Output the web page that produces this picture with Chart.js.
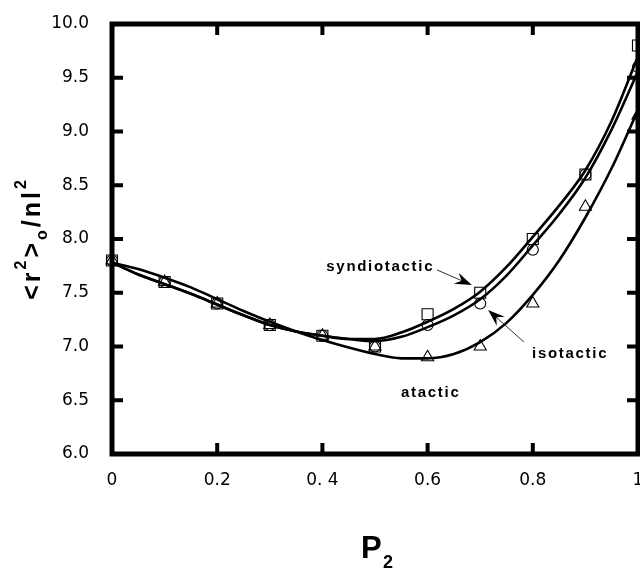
<!DOCTYPE html>
<html><head><meta charset="utf-8">
<script src="https://cdn.jsdelivr.net/npm/chart.js@4/dist/chart.umd.min.js"></script>
<style>html,body{margin:0;padding:0;background:#fff;}#wrap{width:640px;height:570px;}</style>
</head><body><div id="wrap"><canvas id="c" width="640" height="570"></canvas></div>
<script>
// ---- data ----
const pointX = [0, 0.1, 0.2, 0.3, 0.4, 0.5, 0.6, 0.7, 0.8, 0.9, 1.0];
const syndioPoints = [7.8, 7.6, 7.4, 7.2, 7.1, 7.0, 7.3, 7.5, 8.0, 8.6, 9.8];
const isoPoints    = [7.8, 7.6, 7.4, 7.2, 7.1, 7.0, 7.2, 7.4, 7.9, 8.6, 9.6];
const ataPoints    = [7.8, 7.6, 7.4, 7.2, 7.1, 7.0, 6.9, 7.0, 7.4, 8.3, 9.15];

const curveX      = [0, 0.05, 0.1, 0.15, 0.2, 0.25, 0.3, 0.35, 0.4, 0.45, 0.5, 0.55, 0.6, 0.65, 0.7, 0.75, 0.8, 0.85, 0.9, 0.95, 1.0];
const syndioCurve = [7.78, 7.67, 7.58, 7.49, 7.39, 7.29, 7.2, 7.14, 7.1, 7.07, 7.07, 7.13, 7.23, 7.35, 7.51, 7.74, 8.02, 8.31, 8.64, 9.1, 9.7];
const isoCurve    = [7.78, 7.67, 7.58, 7.49, 7.39, 7.29, 7.2, 7.14, 7.1, 7.07, 7.05, 7.09, 7.18, 7.29, 7.44, 7.66, 7.94, 8.23, 8.57, 9.02, 9.56];
const ataCurve    = [7.78, 7.72, 7.64, 7.55, 7.44, 7.33, 7.23, 7.14, 7.06, 6.99, 6.93, 6.89, 6.89, 6.93, 7.04, 7.22, 7.48, 7.8, 8.2, 8.66, 9.2];

const xTickLabels = ['0', '0.2', '0. 4', '0.6', '0.8', '1'];
const yTickLabels = ['6.0', '6.5', '7.0', '7.5', '8.0', '8.5', '9.0', '9.5', '10.0'];

const seriesNames = ['syndiotactic', 'isotactic', 'atactic'];

// annotation anchors (data coordinates)
const labelAnchors = [[0.51, 7.74], [0.871, 6.93], [0.606, 6.567]];
const arrowAnchors = [[[0.618, 7.712], [0.684, 7.572]], [[0.783, 7.042], [0.715, 7.34]]];

// ---- build ----
const pts = (xs, ys) => xs.map((x, i) => ({x, y: ys[i]}));
const FONT = "'Liberation Sans', Arial, Helvetica, sans-serif";
const TICKFONT = "'DejaVu Sans', sans-serif";

const curveDs = (ys) => ({
  data: pts(curveX, ys), showLine: true, pointRadius: 0, borderColor: '#000',
  borderWidth: 2.6, cubicInterpolationMode: 'monotone', fill: false
});
const markDs = (ys, style, r) => ({
  data: pts(pointX, ys), showLine: false, pointStyle: style, pointRadius: r,
  pointBackgroundColor: 'rgba(0,0,0,0)', pointBorderColor: '#000', pointBorderWidth: 1.1,
  clip: false
});

const decor = {
  id: 'decor',
  afterDraw(chart) {
    const {ctx, chartArea: a, scales: {x, y}} = chart;
    ctx.save();
    // frame
    ctx.strokeStyle = '#000';
    ctx.lineWidth = 5;
    ctx.lineCap = 'square';
    ctx.beginPath();
    ctx.rect(a.left, a.top, a.right - a.left, a.bottom - a.top);
    ctx.stroke();
    // inward ticks
    ctx.lineWidth = 4;
    ctx.lineCap = 'butt';
    const tl = 11;
    ctx.beginPath();
    y.ticks.forEach(t => {
      const py = y.getPixelForValue(t.value);
      ctx.moveTo(a.left, py); ctx.lineTo(a.left + tl, py);
      ctx.moveTo(a.right, py); ctx.lineTo(a.right - tl, py);
    });
    x.ticks.forEach(t => {
      const px = x.getPixelForValue(t.value);
      ctx.moveTo(px, a.top); ctx.lineTo(px, a.top + tl);
      ctx.moveTo(px, a.bottom); ctx.lineTo(px, a.bottom - tl);
    });
    ctx.stroke();

    // labels
    ctx.fillStyle = '#000';
    ctx.font = 'bold 15px ' + FONT;
    ctx.letterSpacing = '1.7px';
    ctx.textAlign = 'center';
    ctx.textBaseline = 'middle';
    seriesNames.forEach((n, i) => {
      ctx.fillText(n, x.getPixelForValue(labelAnchors[i][0]), y.getPixelForValue(labelAnchors[i][1]));
    });
    ctx.letterSpacing = '0px';

    // arrows
    arrowAnchors.forEach(([f, t]) => {
      const x0 = x.getPixelForValue(f[0]), y0 = y.getPixelForValue(f[1]);
      const x1 = x.getPixelForValue(t[0]), y1 = y.getPixelForValue(t[1]);
      const ang = Math.atan2(y1 - y0, x1 - x0);
      ctx.strokeStyle = '#333'; ctx.lineWidth = 1;
      ctx.beginPath(); ctx.moveTo(x0, y0);
      ctx.lineTo(x1 - 10 * Math.cos(ang), y1 - 10 * Math.sin(ang)); ctx.stroke();
      ctx.save(); ctx.translate(x1, y1); ctx.rotate(ang);
      ctx.fillStyle = '#000';
      ctx.beginPath(); ctx.moveTo(0, 0); ctx.lineTo(-17, -6); ctx.lineTo(-11, 0); ctx.lineTo(-17, 6); ctx.closePath(); ctx.fill();
      ctx.restore();
    });

    // x title P_2
    ctx.textAlign = 'left'; ctx.textBaseline = 'alphabetic';
    ctx.font = 'bold 31px ' + FONT;
    ctx.fillText('P', 361, 558);
    ctx.font = 'bold 18px ' + FONT;
    ctx.fillText('2', 383, 568);

    // y title <r^2>_o/nl^2 (rotated)
    ctx.save();
    ctx.translate(40, 240);
    ctx.rotate(-Math.PI / 2);
    const segs = [['<', 25, 0], ['r', 25, 0], ['2', 16, -14], ['>', 25, 0], ['o', 16, 7], ['/', 25, 0], ['n', 25, 0], ['l', 25, 0], ['2', 16, -14]];
    const gap = 3;
    let total = 0;
    segs.forEach(s => { ctx.font = 'bold ' + s[1] + 'px ' + FONT; s.w = ctx.measureText(s[0]).width; total += s.w; });
    total += gap * (segs.length - 1);
    let cx = -total / 2;
    segs.forEach(s => {
      ctx.font = 'bold ' + s[1] + 'px ' + FONT;
      ctx.fillText(s[0], cx, s[2]);
      cx += s.w + gap;
    });
    ctx.restore();
    ctx.restore();
  }
};

const zeroPad = s => { s.paddingLeft = 0; s.paddingRight = 0; s.paddingTop = 0; s.paddingBottom = 0; };

new Chart(document.getElementById('c'), {
  type: 'scatter',
  data: {
    datasets: [
      curveDs(syndioCurve), curveDs(isoCurve), curveDs(ataCurve),
      markDs(syndioPoints, 'rect', 7.8),
      markDs(isoPoints, 'circle', 5.5),
      markDs(ataPoints, 'triangle', 7)
    ]
  },
  options: {
    responsive: false, animation: false, devicePixelRatio: 1,
    layout: {autoPadding: false, padding: {top: 24, right: 2, left: 0, bottom: 0}},
    plugins: {legend: {display: false}, tooltip: {enabled: false}},
    scales: {
      x: {
        type: 'linear', min: 0, max: 1,
        grid: {display: false}, border: {display: false},
        ticks: {stepSize: 0.2, autoSkip: false, maxRotation: 0, padding: 8, color: '#000',
                font: {family: TICKFONT, size: 17}, callback: (v, i) => xTickLabels[i]},
        afterFit: s => { s.height = 116; zeroPad(s); }
      },
      y: {
        min: 6, max: 10,
        grid: {display: false}, border: {display: false},
        ticks: {stepSize: 0.5, padding: 15, color: '#000',
                font: {family: TICKFONT, size: 17}, callback: (v, i) => yTickLabels[i]},
        afterFit: s => { s.width = 112; zeroPad(s); }
      }
    }
  },
  plugins: [decor]
});
</script>
</body></html>
